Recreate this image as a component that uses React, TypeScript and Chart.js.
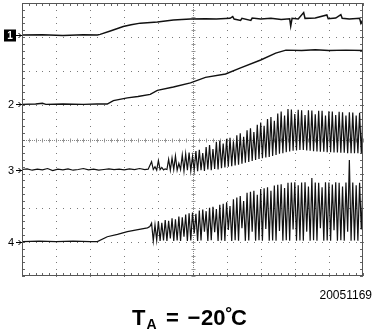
import React, { useEffect, useRef } from "react";
import { Chart, registerables } from "chart.js";

Chart.register(...registerables);

// Screen in divisions: x 0..10, y 0..8
const xDivs = [0, 1, 2, 3, 4, 5, 6, 7, 8, 9, 10];
const yDivs = [0, 1, 2, 3, 4, 5, 6, 7, 8];
const channelLabels = ["1", "2", "3", "4"];
const channelGround = [7.06, 5.03, 3.11, 1.01];

const ch1X = [0, 0.6, 1.2, 1.8, 2.21, 2.29, 2.59, 2.97, 3.2, 3.47, 3.97, 4.44, 4.94, 5.38, 5.7, 6.1, 6.18, 6.22, 6.41, 6.45, 6.71, 6.75, 7.0, 7.3, 7.6, 7.85, 7.88, 7.92, 8.1, 8.26, 8.3, 8.6, 8.94, 8.98, 9.2, 9.35, 9.39, 9.6, 9.9, 9.94, 10];
const ch1Y = [7.06, 7.07, 7.05, 7.07, 7.06, 7.08, 7.18, 7.31, 7.36, 7.41, 7.44, 7.5, 7.53, 7.54, 7.53, 7.55, 7.6, 7.53, 7.49, 7.55, 7.49, 7.56, 7.53, 7.55, 7.52, 7.54, 7.32, 7.55, 7.53, 7.72, 7.55, 7.56, 7.65, 7.54, 7.56, 7.66, 7.55, 7.53, 7.55, 7.4, 7.52];

const ch2X = [0, 0.4, 0.6, 0.7, 1.2, 1.8, 2.2, 2.5, 2.68, 3.09, 3.4, 3.76, 3.97, 4.44, 4.94, 5.38, 5.97, 6.41, 7.0, 7.44, 7.74, 8.2, 8.6, 9.0, 9.5, 10];
const ch2Y = [5.03, 5.04, 5.06, 5.03, 5.04, 5.03, 5.04, 5.04, 5.14, 5.22, 5.26, 5.32, 5.44, 5.54, 5.66, 5.82, 5.92, 6.1, 6.33, 6.53, 6.62, 6.61, 6.63, 6.61, 6.62, 6.61];

const ch3BaseX = [0, 0.15, 0.3, 0.45, 0.6, 0.75, 0.9, 1.05, 1.2, 1.35, 1.5, 1.65, 1.8, 1.95, 2.1, 2.25, 2.4, 2.55, 2.7, 2.85, 3.0, 3.15, 3.3, 3.45, 3.6, 3.7];
const ch3BaseY = [3.12, 3.14, 3.1, 3.13, 3.11, 3.15, 3.09, 3.13, 3.11, 3.14, 3.1, 3.12, 3.15, 3.11, 3.13, 3.1, 3.12, 3.14, 3.12, 3.13, 3.11, 3.14, 3.12, 3.15, 3.12, 3.13];

// oscillation samples, one per 0.1 div from x = 3.8 to 10.0
const oscStart = 3.8;
const oscStep = 0.1;
const ch3Hi = [
  3.35, 3.2, 3.38, 3.18, 3.14, 3.42, 3.46, 3.52, 3.3, 3.55,
  3.58, 3.62, 3.5, 3.66, 3.7, 3.6, 3.78, 3.84, 3.72, 3.93,
  3.97, 3.88, 4.02, 4.05, 3.95, 4.12, 4.18, 4.08, 4.27, 4.33,
  4.22, 4.43, 4.5, 4.4, 4.6, 4.66, 4.55, 4.76, 4.82, 4.7,
  4.89, 4.88, 4.75, 4.87, 4.86, 4.72, 4.86, 4.85, 4.74, 4.84,
  4.84, 4.7, 4.83, 4.82, 4.72, 4.81, 4.8, 4.7, 4.8, 4.79,
  4.7, 4.78, 4.76,
];
const ch3Lo = [
  3.12, 3.1, 3.12, 3.11, 3.12, 3.1, 3.12, 3.1, 3.12, 3.08,
  3.1, 3.08, 3.1, 3.07, 3.1, 3.08, 3.12, 3.1, 3.14, 3.12,
  3.16, 3.18, 3.2, 3.22, 3.24, 3.26, 3.29, 3.32, 3.34, 3.37,
  3.4, 3.43, 3.45, 3.47, 3.49, 3.52, 3.55, 3.58, 3.6, 3.63,
  3.65, 3.67, 3.68, 3.69, 3.69, 3.68, 3.67, 3.66, 3.65, 3.64,
  3.64, 3.63, 3.63, 3.62, 3.62, 3.61, 3.61, 3.6, 3.6, 3.6,
  3.6, 3.6, 3.61,
];

const ch4BaseX = [0, 0.5, 1.0, 1.5, 2.0, 2.21, 2.5, 2.8, 3.09, 3.4, 3.68, 3.75];
const ch4BaseY = [1.01, 1.02, 1.01, 1.02, 1.01, 1.01, 1.15, 1.22, 1.3, 1.36, 1.41, 1.45];
const ch4Hi = [
  1.55, 1.5, 1.6, 1.56, 1.64, 1.62, 1.69, 1.66, 1.74, 1.72,
  1.8, 1.84, 1.86, 1.82, 1.92, 1.95, 1.9, 2.0, 2.03, 1.96,
  2.09, 2.12, 2.16, 2.05, 2.25, 2.3, 2.34, 2.2, 2.44, 2.47,
  2.5, 2.38, 2.55, 2.57, 2.6, 2.5, 2.65, 2.67, 2.69, 2.58,
  2.73, 2.74, 2.75, 2.66, 2.74, 2.75, 2.62, 2.87, 2.74, 2.73,
  2.6, 2.75, 2.74, 2.68, 2.75, 2.73, 2.62, 2.74, 3.4, 2.74,
  2.66, 2.73, 2.74,
];
const ch4Lo = [
  1.03, 1.05, 1.03, 1.04, 1.03, 1.1, 1.03, 1.04, 1.03, 1.15,
  1.03, 1.04, 1.25, 1.03, 1.04, 1.3, 1.03, 1.05, 1.28, 1.03,
  1.04, 1.03, 1.35, 1.03, 1.05, 1.03, 1.4, 1.03, 1.04, 1.3,
  1.03, 1.05, 1.03, 1.38, 1.03, 1.04, 1.03, 1.32, 1.03, 1.05,
  1.03, 1.36, 1.03, 1.04, 1.03, 1.3, 1.03, 1.05, 1.03, 1.4,
  1.03, 1.04, 1.03, 1.34, 1.03, 1.05, 1.03, 1.3, 1.03, 1.04,
  1.03, 1.36, 1.03,
];

const figureNumber = "20051169";

const FONT = '"Liberation Sans", Arial, Helvetica, sans-serif';

function pairs(xs: number[], ys: number[]) {
  return xs.map((x, i) => ({ x, y: ys[i] }));
}

function zigzag(hi: number[], lo: number[]) {
  const pts: { x: number; y: number }[] = [];
  hi.forEach((h, i) => {
    const x0 = oscStart + i * oscStep;
    pts.push({ x: x0, y: h });
    pts.push({ x: x0 + oscStep / 2, y: lo[i] });
  });
  return pts;
}

const graticule = {
  id: "graticule",
  beforeDatasetsDraw(chart: any) {
    const { ctx, chartArea: a, scales } = chart;
    const xs = scales.x;
    const ys = scales.y;
    ctx.save();
    const minorX: number[] = [];
    for (let i = 0; i <= 50; i++) minorX.push(i / 5);
    const minorY: number[] = [];
    for (let i = 0; i <= 40; i++) minorY.push(i / 5);

    // dotted major grid lines
    ctx.fillStyle = "#7a7a7a";
    xDivs.slice(1, -1).forEach((gx) => {
      if (gx === 5) return;
      const px = Math.round(xs.getPixelForValue(gx));
      minorY.forEach((v) => {
        ctx.fillRect(px, Math.round(ys.getPixelForValue(v)), 1, 1);
      });
    });
    yDivs.slice(1, -1).forEach((gy) => {
      if (gy === 4) return;
      const py = Math.round(ys.getPixelForValue(gy));
      minorX.forEach((v) => {
        ctx.fillRect(Math.round(xs.getPixelForValue(v)), py, 1, 1);
      });
    });

    // center crosshair with minor ticks
    ctx.strokeStyle = "#999";
    ctx.lineWidth = 1;
    const cx = Math.round(xs.getPixelForValue(5)) + 0.5;
    const cy = Math.round(ys.getPixelForValue(4)) + 0.5;
    ctx.beginPath();
    minorY.forEach((v) => {
      const py = Math.round(ys.getPixelForValue(v)) + 0.5;
      ctx.moveTo(cx - 2, py);
      ctx.lineTo(cx + 2, py);
    });
    minorX.forEach((v) => {
      const px = Math.round(xs.getPixelForValue(v)) + 0.5;
      ctx.moveTo(px, cy - 2);
      ctx.lineTo(px, cy + 2);
    });
    ctx.stroke();
    ctx.fillStyle = "#888";
    for (let py = Math.round(a.top); py <= a.bottom; py += 2) ctx.fillRect(cx - 0.5, py, 1, 1);
    for (let px = Math.round(a.left); px <= a.right; px += 2) ctx.fillRect(px, cy - 0.5, 1, 1);

    // edge ticks
    ctx.strokeStyle = "#666";
    ctx.beginPath();
    minorX.forEach((v) => {
      const px = Math.round(xs.getPixelForValue(v)) + 0.5;
      ctx.moveTo(px, a.top);
      ctx.lineTo(px, a.top + 3);
      ctx.moveTo(px, a.bottom);
      ctx.lineTo(px, a.bottom - 3);
    });
    minorY.forEach((v) => {
      const py = Math.round(ys.getPixelForValue(v)) + 0.5;
      ctx.moveTo(a.left, py);
      ctx.lineTo(a.left + 3, py);
      ctx.moveTo(a.right, py);
      ctx.lineTo(a.right - 3, py);
    });
    ctx.stroke();
    ctx.restore();
  },
  afterDraw(chart: any) {
    const { ctx, chartArea: a, scales } = chart;
    const ys = scales.y;
    ctx.save();
    // frame
    ctx.strokeStyle = "#555";
    ctx.lineWidth = 1;
    ctx.strokeRect(Math.round(a.left) + 0.5, Math.round(a.top) + 0.5, Math.round(a.right - a.left) - 1, Math.round(a.bottom - a.top) - 1);

    // channel markers
    channelLabels.forEach((lab, i) => {
      const py = Math.round(ys.getPixelForValue(channelGround[i])) + 0.5;
      ctx.font = `11px ${FONT}`;
      ctx.textBaseline = "middle";
      ctx.textAlign = "center";
      if (i === 0) {
        ctx.fillStyle = "#000";
        ctx.fillRect(4, py - 6, 12, 12);
        ctx.fillStyle = "#fff";
        ctx.font = `bold 10px ${FONT}`;
        ctx.fillText(lab, 10, py + 0.5);
      } else {
        ctx.fillStyle = "#000";
        ctx.fillText(lab, 11, py + 0.5);
      }
      ctx.strokeStyle = "#000";
      ctx.beginPath();
      ctx.moveTo(16, py);
      ctx.lineTo(a.left, py);
      ctx.moveTo(18.5, py - 2.5);
      ctx.lineTo(21, py);
      ctx.lineTo(18.5, py + 2.5);
      ctx.stroke();
    });

    // figure number
    ctx.fillStyle = "#000";
    ctx.textBaseline = "alphabetic";
    ctx.textAlign = "right";
    ctx.font = `12px ${FONT}`;
    ctx.fillText(figureNumber, 372, 299);

    // caption  T_A = −20˚C
    ctx.textAlign = "left";
    ctx.font = `bold 22px ${FONT}`;
    ctx.fillText("T", 132, 325);
    ctx.font = `bold 14px ${FONT}`;
    ctx.fillText("A", 146.5, 329);
    ctx.font = `bold 22px ${FONT}`;
    ctx.fillText("=", 166, 325);
    ctx.fillText("\u2212", 187.5, 325);
    ctx.fillText("20", 201, 325);
    ctx.fillText("\u02DA", 225.5, 325);
    ctx.fillText("C", 231, 325);
    ctx.restore();
  },
};

export default function App() {
  const ref = useRef<HTMLCanvasElement | null>(null);
  useEffect(() => {
    if (!ref.current) return;
    const trace = (data: any[], w: number, color: string) => ({
      data,
      borderColor: color,
      borderWidth: w,
      pointRadius: 0,
      tension: 0,
      fill: false,
    });
    const chart = new Chart(ref.current, {
      type: "line",
      data: {
        datasets: [
          trace(pairs(ch1X, ch1Y), 1.5, "#111"),
          trace(pairs(ch2X, ch2Y), 1.4, "#111"),
          trace([...pairs(ch3BaseX, ch3BaseY), ...zigzag(ch3Hi, ch3Lo)], 1.2, "#111"),
          trace([...pairs(ch4BaseX, ch4BaseY), ...zigzag(ch4Hi, ch4Lo)], 1.2, "#111"),
        ],
      },
      options: {
        animation: false,
        responsive: false,
        devicePixelRatio: 1,
        layout: { padding: { left: 22, top: 3, right: 11, bottom: 56 } },
        scales: {
          x: { type: "linear", min: 0, max: 10, display: false },
          y: { type: "linear", min: 0, max: 8, display: false },
        },
        plugins: { legend: { display: false }, tooltip: { enabled: false } },
        events: [],
      },
      plugins: [graticule],
    });
    return () => chart.destroy();
  }, []);
  return (
    <div style={{ position: "absolute", left: 0, top: 0, width: 374, height: 332, background: "#fff" }}>
      <canvas ref={ref} width={374} height={332} style={{ display: "block" }} />
    </div>
  );
}
